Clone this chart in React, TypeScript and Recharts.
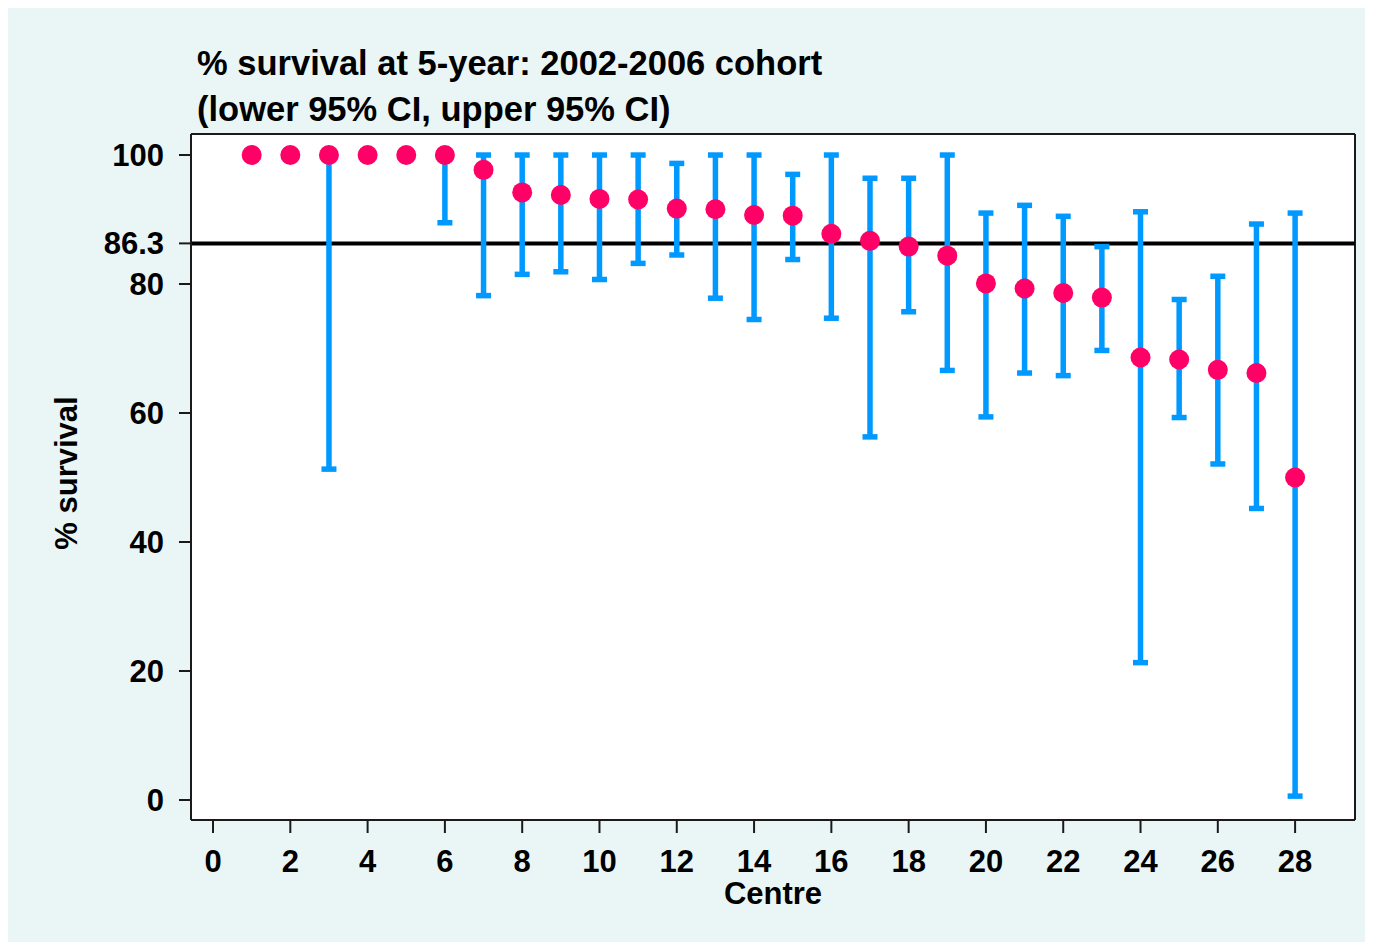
import React from 'react'
import {
  ScatterChart,
  Scatter,
  XAxis,
  YAxis,
  CartesianGrid,
  ErrorBar,
  ReferenceLine,
  Label,
} from 'recharts'

// survival at 5 years per centre, with 95% CI bounds
const centres = [1, 2, 3, 4, 5, 6, 7, 8, 9, 10, 11, 12, 13, 14, 15, 16, 17, 18, 19, 20, 21, 22, 23, 24, 25, 26, 27, 28]
const survival = [100, 100, 100, 100, 100, 100, 97.7, 94.2, 93.8, 93.2, 93.1, 91.7, 91.6, 90.7, 90.6, 87.8, 86.7, 85.8, 84.4, 80.1, 79.3, 78.6, 77.9, 68.6, 68.3, 66.7, 66.2, 50.0]
const lowerCI = [100, 100, 51.3, 100, 100, 89.5, 78.2, 81.5, 81.9, 80.7, 83.2, 84.5, 77.8, 74.5, 83.8, 74.7, 56.3, 75.7, 66.6, 59.4, 66.2, 65.8, 69.7, 21.3, 59.3, 52.1, 45.2, 0.6]
const upperCI = [100, 100, 100, 100, 100, 100, 100, 100, 100, 100, 100, 98.7, 100, 100, 97.0, 100, 96.4, 96.4, 100, 91.0, 92.2, 90.5, 85.8, 91.2, 77.6, 81.2, 89.3, 91.0]

const overall = 86.3
const xTicks = [0, 2, 4, 6, 8, 10, 12, 14, 16, 18, 20, 22, 24, 26, 28]
const yTicks = [0, 20, 40, 60, 80, overall, 100]
const xDomain = [-0.57, 29.55]
const yDomain = [-3.1, 103.26]

const titleLines = ['% survival at 5-year: 2002-2006 cohort', '(lower 95% CI, upper 95% CI)']

const FONT = '"Liberation Sans", Arial, Helvetica, sans-serif'
const BG = '#EAF6F6'
const DOT = '#FF0066'
const BAR = '#0099FF'
const INK = '#1a1a1a'

const table = centres.map((c, i) => ({
  centre: c,
  survival: survival[i],
  err: [survival[i] - lowerCI[i], upperCI[i] - survival[i]],
}))

const tickStyle = { fill: '#000', fontSize: 31, fontWeight: 700, fontFamily: FONT }

// eslint-disable-next-line @typescript-eslint/no-explicit-any
const YTitle = ({ viewBox }: any) => {
  const cy = viewBox.y + viewBox.height / 2 - 4
  return (
    <text
      x={69}
      y={cy}
      transform={`rotate(-90 69 ${cy})`}
      textAnchor="middle"
      style={{ fontSize: 31, fontWeight: 700, fontFamily: FONT, fill: '#000' }}
    >
      % survival
    </text>
  )
}

// eslint-disable-next-line @typescript-eslint/no-explicit-any
const XTitle = ({ viewBox }: any) => (
  <text
    x={viewBox.x + viewBox.width / 2}
    y={896}
    textAnchor="middle"
    style={{ fontSize: 31, fontWeight: 700, fontFamily: FONT, fill: '#000' }}
  >
    Centre
  </text>
)

// eslint-disable-next-line @typescript-eslint/no-explicit-any
const Dot = (props: any) => <circle cx={props.cx} cy={props.cy} r={10} fill={DOT} />

export default function App() {
  return (
    <div style={{ position: 'relative', width: 1380, height: 945, background: BG }}>
      <style>{'html,body{overflow:hidden;} body{margin:8px;}'}</style>
      <div
        style={{
          position: 'absolute',
          left: 189,
          top: 32,
          fontFamily: FONT,
          fontWeight: 700,
          fontSize: 34.5,
          lineHeight: '46px',
          color: '#000',
          whiteSpace: 'nowrap',
        }}
      >
        {titleLines.map((t) => (
          <div key={t}>{t}</div>
        ))}
      </div>
      <ScatterChart width={1365} height={934} margin={{ top: 126, right: 18, left: 0, bottom: 60 }}>
        <CartesianGrid fill="#FFFFFF" horizontal={false} vertical={false} />
        <XAxis
          type="number"
          dataKey="centre"
          domain={xDomain}
          ticks={xTicks}
          interval={0}
          height={62}
          tick={tickStyle}
          tickSize={13}
          tickMargin={17}
          axisLine={{ stroke: INK, strokeWidth: 2 }}
          tickLine={{ stroke: INK, strokeWidth: 2 }}
          allowDataOverflow
        >
          <Label content={XTitle} />
        </XAxis>
        <YAxis
          type="number"
          dataKey="survival"
          domain={yDomain}
          ticks={yTicks}
          interval={0}
          width={183}
          tick={tickStyle}
          tickSize={12}
          tickMargin={15}
          axisLine={{ stroke: INK, strokeWidth: 2 }}
          tickLine={{ stroke: INK, strokeWidth: 2 }}
          allowDataOverflow
        >
          <Label content={YTitle} />
        </YAxis>
        <ReferenceLine y={yDomain[1]} stroke={INK} strokeWidth={2} />
        <ReferenceLine x={xDomain[1]} stroke={INK} strokeWidth={2} />
        <ReferenceLine y={overall} stroke="#000" strokeWidth={4} />
        <Scatter data={table} shape={Dot} isAnimationActive={false}>
          <ErrorBar dataKey="err" direction="y" width={7.5} stroke={BAR} strokeWidth={5.5} isAnimationActive={false} />
        </Scatter>
      </ScatterChart>
    </div>
  )
}
